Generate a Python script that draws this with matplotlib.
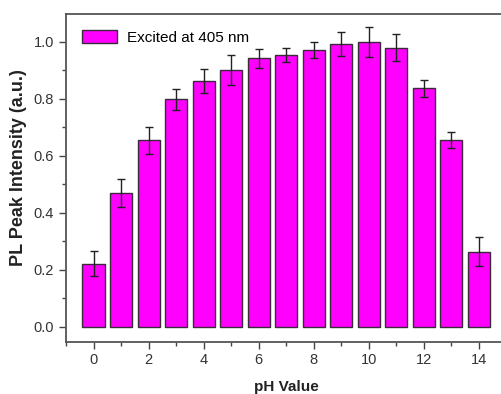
import matplotlib
matplotlib.use("Agg")
import matplotlib.pyplot as plt
from matplotlib.ticker import MultipleLocator

plt.rcParams['font.family'] = ['Liberation Sans', 'DejaVu Sans']

ph = [0, 1, 2, 3, 4, 5, 6, 7, 8, 9, 10, 11, 12, 13, 14]
intensity = [0.222, 0.469, 0.654, 0.799, 0.863, 0.902, 0.943, 0.954, 0.971, 0.993, 0.999, 0.980, 0.837, 0.656, 0.264]
errors = [0.043, 0.050, 0.047, 0.037, 0.042, 0.053, 0.033, 0.023, 0.027, 0.042, 0.052, 0.046, 0.031, 0.027, 0.052]
xticks = [0, 2, 4, 6, 8, 10, 12, 14]
yticks = [0.0, 0.2, 0.4, 0.6, 0.8, 1.0]

fig = plt.figure(figsize=(5.01, 3.94), dpi=100)
ax = fig.add_axes([0.1317, 0.133, 0.879, 0.8315])

ax.bar(ph, intensity, width=0.8, color='#FF00FF', edgecolor='#3a2a3a', linewidth=1.0,
       yerr=errors, error_kw=dict(ecolor='#222222', elinewidth=1.0, capsize=3, capthick=1.0),
       label='Excited at 405 nm')

ax.set_xlim(-1, 15)
ax.set_ylim(-0.052, 1.098)
ax.set_xticks(xticks)
ax.set_xticklabels([str(t) for t in xticks])
ax.set_yticks(yticks)
ax.set_yticklabels([f"{t:.1f}" for t in yticks])
ax.xaxis.set_minor_locator(MultipleLocator(1))
ax.yaxis.set_minor_locator(MultipleLocator(0.1))
ax.tick_params(which='both', direction='out', colors='#444444', labelcolor='#333333', labelsize=10.5)
ax.tick_params(which='major', length=5, width=1)
ax.tick_params(which='minor', length=3, width=1)
for s in ax.spines.values():
    s.set_color('#555555')
    s.set_linewidth(1.3)

ax.set_xlabel('pH Value', fontsize=11, fontweight='bold', color='#222222')
ax.xaxis.set_label_coords(0.5006, -0.116)
ax.set_ylabel('PL Peak Intensity (a.u.)', fontsize=13, fontweight='bold', color='#222222')
ax.yaxis.set_label_coords(-0.089, 0.530)

ax.legend(loc='upper left', frameon=False, fontsize=11, handlelength=2.3, handleheight=0.9,
          borderaxespad=0.65, handletextpad=0.65)

fig.savefig('out.png', dpi=100)
